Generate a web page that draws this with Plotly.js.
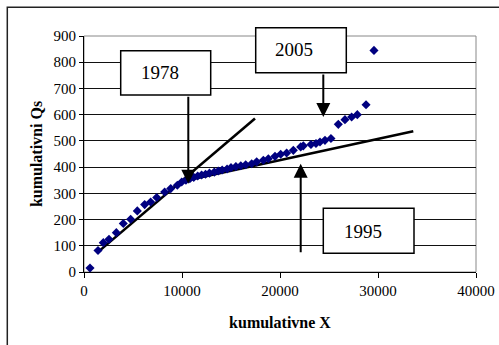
<!DOCTYPE html>
<html>
<head>
<meta charset="utf-8">
<script src="https://cdn.plot.ly/plotly-3.0.1.min.js"></script>
<style>html,body{margin:0;padding:0;background:#fff;}#chart{width:499px;height:345px;}</style>
</head>
<body>
<div id="chart"></div>
<script>
// ---- data ----
const cumX = [612, 1430, 1970, 2550, 3300, 4010, 4760, 5440, 6190, 6800, 7420, 8230, 8850, 9520,
  9970, 10400, 10800, 11200, 11600, 12000, 12400, 12800, 13300, 13700, 14100, 14600, 15000, 15500,
  16000, 16500, 17110, 17620, 18300, 18810, 19490, 20070, 20680, 21360, 22110, 22380, 23160, 23670,
  24080, 24590, 25200, 25950, 26630, 27310, 27890, 28780, 29590];
const cumQs = [15, 82, 112, 125, 150, 185, 201, 233, 257, 267, 284, 305, 318, 331,
  343, 350, 356, 361, 366, 370, 373, 377, 381, 385, 389, 393, 398, 402,
  405, 409, 413, 420, 426, 432, 441, 449, 454, 464, 477, 481, 486, 490,
  496, 502, 509, 563, 581, 591, 600, 638, 845];
const trendAX = [1296, 17449];
const trendAY = [72, 585];
const trendBX = [10300, 33600];
const trendBY = [348, 537];
const xTickVals = [0, 10000, 20000, 30000, 40000];
const yTickVals = [0, 100, 200, 300, 400, 500, 600, 700, 800, 900];
const yearLabels = ['1978', '2005', '1995'];

// ---- layout helpers (pixel -> paper) ----
const M = {l: 84, r: 23, t: 36, b: 73};
const PW = 499 - M.l - M.r, PH = 345 - M.t - M.b;
const px = v => (v - M.l) / PW;
const py = v => (345 - M.b - v) / PH;
const rectPx = (x0, y0, x1, y1, extra) => Object.assign({
  type: 'rect', xref: 'paper', yref: 'paper',
  x0: px(x0), x1: px(x1), y0: py(y1), y1: py(y0),
  line: {color: '#000', width: 1.5}, fillcolor: '#fff', layer: 'above'
}, extra || {});

const font = {family: 'Liberation Serif, Times New Roman, serif', color: '#000'};

const traces = [
  {x: trendAX, y: trendAY, type: 'scatter', mode: 'lines', line: {color: '#000', width: 2.6}, hoverinfo: 'skip'},
  {x: trendBX, y: trendBY, type: 'scatter', mode: 'lines', line: {color: '#000', width: 2.6}, hoverinfo: 'skip'},
  {x: cumX, y: cumQs, type: 'scatter', mode: 'markers',
   marker: {symbol: 'diamond', size: 7, color: '#000080', line: {width: 0}}}
];

const arrow = (x, y, ax, ay) => ({
  x: x, y: y, ax: ax, ay: ay, xref: 'x', yref: 'y', axref: 'x', ayref: 'y',
  text: '', showarrow: true, arrowhead: 2, arrowwidth: 2, arrowsize: 1.4, arrowcolor: '#000', standoff: 0
});
const label = (t, cx, cy) => ({
  x: px(cx), y: py(cy), xref: 'paper', yref: 'paper', text: t, showarrow: false,
  xanchor: 'center', yanchor: 'middle', font: Object.assign({size: 19}, font)
});

const layout = {
  width: 499, height: 345,
  margin: M,
  paper_bgcolor: '#fff', plot_bgcolor: '#fff',
  showlegend: false,
  font: Object.assign({size: 15}, font),
  xaxis: {
    range: [0, 40000], tickvals: xTickVals, ticktext: xTickVals.map(String),
    showgrid: false, zeroline: false, showline: true, linecolor: '#000', linewidth: 1,
    ticks: 'outside', ticklen: 5, tickcolor: '#000', tickfont: Object.assign({size: 15}, font),
    title: {text: '<b>kumulativne X</b>', font: Object.assign({size: 16}, font), standoff: 18}
  },
  yaxis: {
    range: [0, 900], tickvals: yTickVals, ticktext: yTickVals.map(String),
    showgrid: true, gridcolor: '#111', gridwidth: 1, zeroline: false,
    showline: true, linecolor: '#000', linewidth: 1,
    ticks: 'outside', ticklen: 4, tickcolor: '#000', tickfont: Object.assign({size: 15}, font),
    title: {text: '<b>kumulativni Qs</b>', font: Object.assign({size: 16}, font), standoff: 6}
  },
  shapes: [
    // outer chart frame (cropped at right and bottom)
    {type: 'rect', xref: 'paper', yref: 'paper', x0: px(7.3), x1: 2, y0: -1, y1: py(7.3),
     line: {color: '#222', width: 1.5}, layer: 'below'},
    // plot-area frame
    {type: 'rect', xref: 'paper', yref: 'paper', x0: 0, x1: 1, y0: 0, y1: 1,
     line: {color: '#888', width: 1}, layer: 'below'},
    // annotation boxes
    rectPx(120.7, 50.7, 210.7, 95),
    rectPx(255.7, 27.7, 346.3, 72.7),
    rectPx(323.3, 208.3, 414, 253.3)
  ],
  annotations: [
    arrow(10643, 337, 10643, 674),
    arrow(24418, 591, 24418, 759),
    arrow(22112, 413, 22112, 70),
    label(yearLabels[0], 159.5, 72.7),
    label(yearLabels[1], 294.2, 50),
    label(yearLabels[2], 362.8, 231)
  ]
};

Plotly.newPlot('chart', traces, layout, {staticPlot: true, displayModeBar: false});
</script>
</body>
</html>
